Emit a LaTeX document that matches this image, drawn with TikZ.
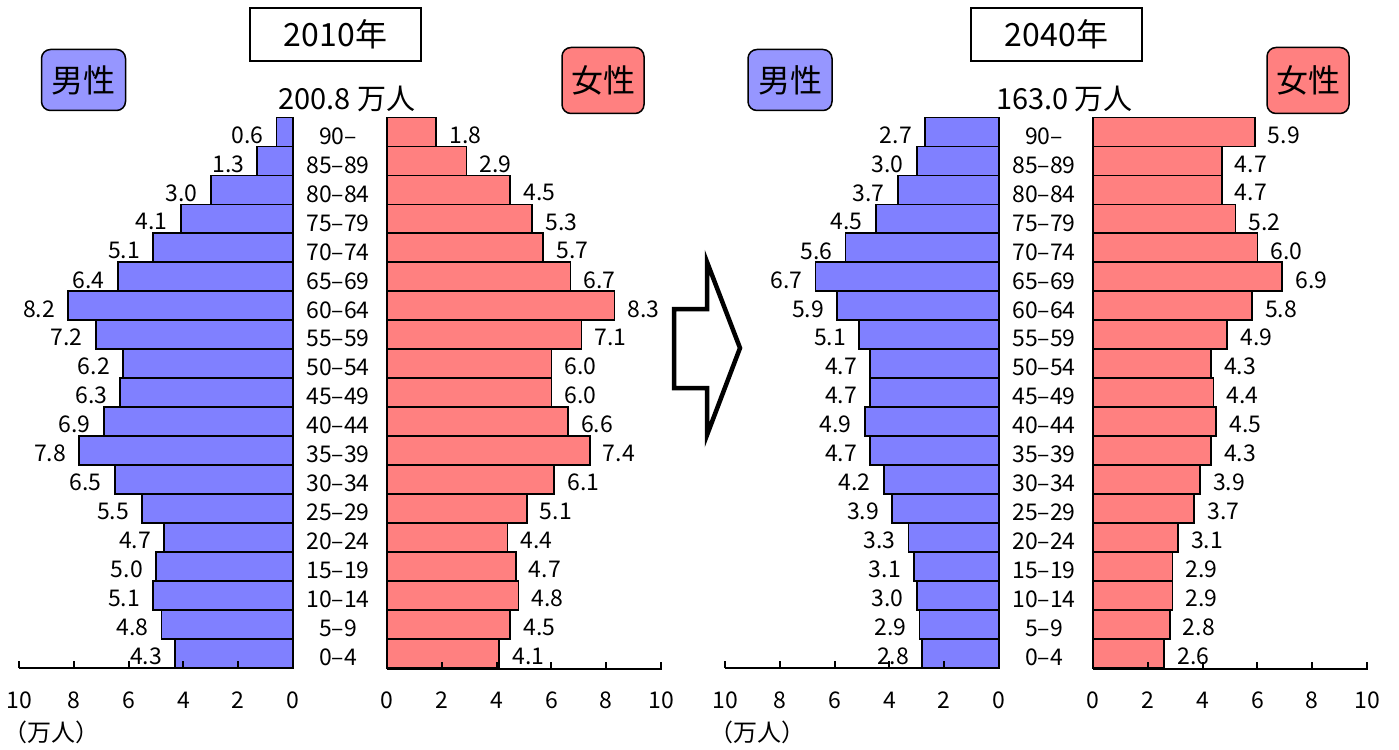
\documentclass[tikz,border=0pt]{standalone}
\usepackage{fontspec}
\setmainfont{Noto Sans CJK JP}
\definecolor{mblue}{RGB}{128,128,255}
\definecolor{fred}{RGB}{255,128,128}
\definecolor{mbox}{RGB}{150,150,255}
\definecolor{fbox}{RGB}{255,128,128}
\newcommand\drawpyr[5]{% #1 offset, #2 male, #3 female, #4 ages, #5 tag
 \foreach \v [count=\i from 0] in {#2} {
   \pgfmathsetmacro\yt{117.5+28.97*\i}
   \pgfmathsetmacro\yb{\yt+28.97}
   \pgfmathsetmacro\xl{293+#1-27.4*\v}
   \draw[mbar] (\xl,\yt) rectangle (293+#1,\yb);
   \node[val,anchor=east] (m#5v\i) at (\xl-13,\yt+17.5) {\v};
 }
 \foreach \v [count=\i from 0] in {#3} {
   \pgfmathsetmacro\yt{117.5+28.97*\i}
   \pgfmathsetmacro\yb{\yt+28.97}
   \pgfmathsetmacro\xr{387+#1+27.4*\v}
   \draw[fbar] (387+#1,\yt) rectangle (\xr,\yb);
   \node[val,anchor=west] (f#5v\i) at (\xr+13,\yt+17.5) {\v};
 }
 \foreach \a [count=\i from 0] in {#4} {
   \pgfmathsetmacro\yt{117.5+28.97*\i}
   \node[val] (a#5v\i) at (338+#1,\yt+18.5) {\a};
 }
 \draw[axisline] (19+#1,668) -- (293+#1,668);
 \draw[axisline] (387+#1,669) -- (662+#1,669);
 \foreach \k in {0,2,...,10} {
   \draw[axisline] (293+#1-27.4*\k,668) -- (293+#1-27.4*\k,661);
   \draw[axisline] (387+#1+27.4*\k,669) -- (387+#1+27.4*\k,662);
   \node[val] (mt#5k\k) at (293+#1-27.4*\k,700) {\k};
   \node[val] (ft#5k\k) at (387+#1+27.4*\k,700) {\k};
 }
 \node[unitlab,anchor=west] (unit#5) at (3+#1,732) {（万人）};
}
\begin{document}
\begin{tikzpicture}[x=1pt,y=-1pt,
  mbar/.style={draw=black,line width=1.8pt,fill=mblue},
  fbar/.style={draw=black,line width=1.8pt,fill=fred},
  axisline/.style={draw=black,line width=2pt},
  val/.style={font=\fontsize{23}{23}\selectfont,inner sep=0pt},
  unitlab/.style={font=\fontsize{24}{24}\selectfont,inner sep=0pt},
  title/.style={draw=black,line width=1.5pt,font=\fontsize{32}{32}\selectfont,inner sep=0pt},
  total/.style={font=\fontsize{29}{29}\selectfont,inner sep=0pt},
  sexbox/.style={draw=black,line width=1.5pt,rounded corners=9pt,font=\fontsize{32}{32}\selectfont,inner sep=0pt}]
\useasboundingbox (0,0) rectangle (1399,749);
\fill[white] (0,0) rectangle (1399,749);

\drawpyr{0}{0.6,1.3,3.0,4.1,5.1,6.4,8.2,7.2,6.2,6.3,6.9,7.8,6.5,5.5,4.7,5.0,5.1,4.8,4.3}{1.8,2.9,4.5,5.3,5.7,6.7,8.3,7.1,6.0,6.0,6.6,7.4,6.1,5.1,4.4,4.7,4.8,4.5,4.1}{90–,85–89,80–84,75–79,70–74,65–69,60–64,55–59,50–54,45–49,40–44,35–39,30–34,25–29,20–24,15–19,10–14,5–9,0–4}{L}
\drawpyr{706}{2.7,3.0,3.7,4.5,5.6,6.7,5.9,5.1,4.7,4.7,4.9,4.7,4.2,3.9,3.3,3.1,3.0,2.9,2.8}{5.9,4.7,4.7,5.2,6.0,6.9,5.8,4.9,4.3,4.4,4.5,4.3,3.9,3.7,3.1,2.9,2.9,2.8,2.6}{90–,85–89,80–84,75–79,70–74,65–69,60–64,55–59,50–54,45–49,40–44,35–39,30–34,25–29,20–24,15–19,10–14,5–9,0–4}{R}

% titles
\node[title,minimum width=171pt,minimum height=53pt] (t1) at (335.5,34.5) {2010年};
\node[title,minimum width=171pt,minimum height=53pt] (t2) at (1056.5,34.5) {2040年};
\node[total] (tot1) at (347,99) {200.8 万人};
\node[total] (tot2) at (1064.5,99) {163.0 万人};

% sex boxes
\node[sexbox,fill=mbox,minimum width=84pt,minimum height=61pt] (ml) at (83.5,80) {男性};
\node[sexbox,fill=fbox,minimum width=82pt,minimum height=66pt] (fl) at (603,80.5) {女性};
\node[sexbox,fill=mbox,minimum width=84pt,minimum height=61pt] (mr) at (790,80) {男性};
\node[sexbox,fill=fbox,minimum width=82pt,minimum height=66pt] (fr) at (1308,80.5) {女性};

% arrow
\draw[line width=4.5pt,miter limit=20,line join=miter]
  (674,309) -- (707,309) -- (707,262) -- (740,348) -- (707,435) -- (707,388) -- (674,388) -- cycle;
\end{tikzpicture}
\end{document}
